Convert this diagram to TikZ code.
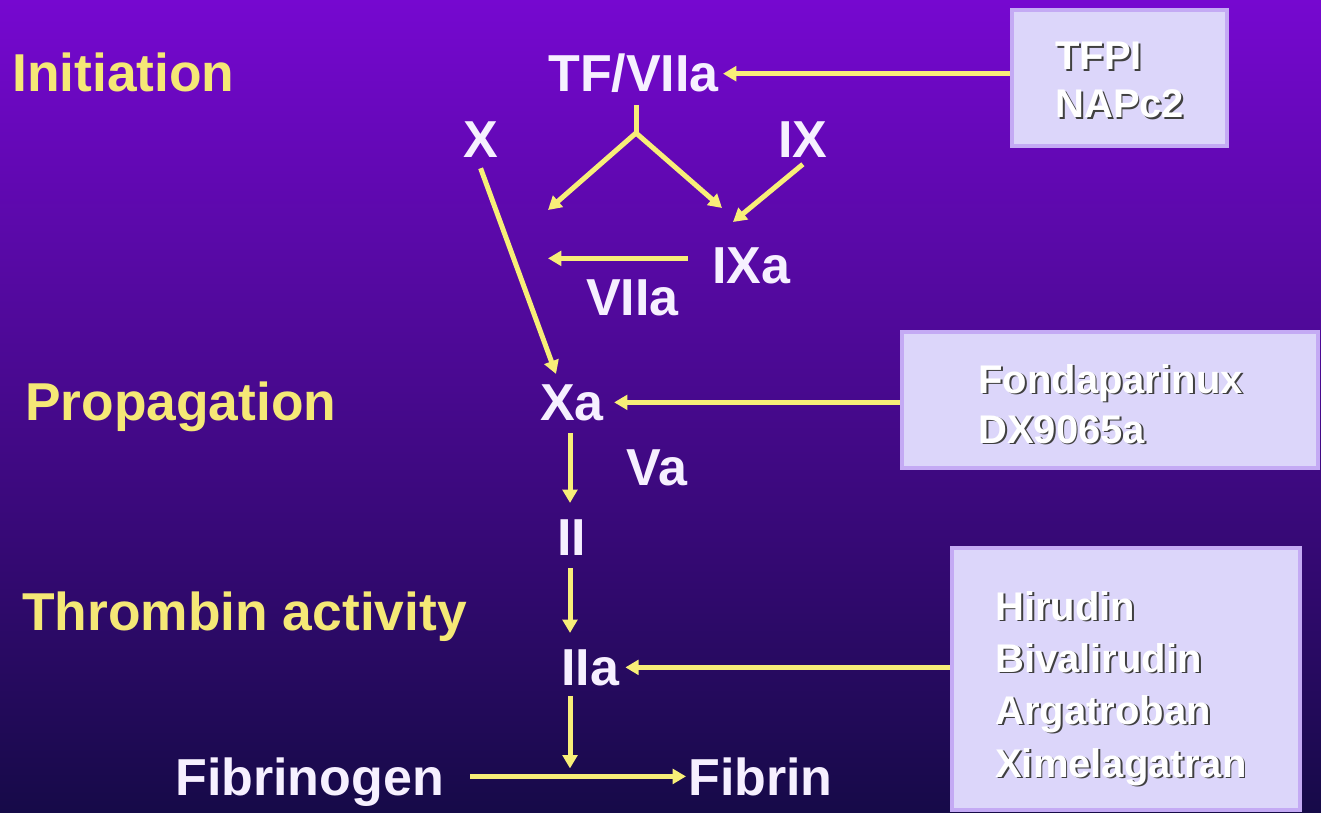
\documentclass[tikz,border=0pt]{standalone}
\usepackage{fontspec}
\setmainfont{Liberation Sans}
\usetikzlibrary{arrows.meta,calc}
\definecolor{bgtop}{RGB}{118,8,208}
\definecolor{bgmid}{RGB}{90,22,168}
\definecolor{bgbot}{RGB}{22,10,72}
\definecolor{lbl}{RGB}{245,232,118}
\definecolor{arrowc}{RGB}{248,238,120}
\definecolor{nodet}{RGB}{246,240,255}
\definecolor{boxfill}{RGB}{220,214,250}
\definecolor{boxedge}{RGB}{196,170,244}
\newcommand\embtext[1]{\rlap{\hspace{1.4pt}\raisebox{-1.4pt}{\color{black!75}#1}}#1}
\begin{document}
\begin{tikzpicture}[x=0.75pt,y=-0.75pt,
  stage/.style={anchor=base west, inner sep=0pt, text=lbl, font=\fontsize{40}{44}\selectfont\bfseries},
  fac/.style={anchor=base west, inner sep=0pt, text=nodet, font=\fontsize{39}{42}\selectfont\bfseries},
  drugbox/.style={draw=boxedge, line width=3pt, fill=boxfill, inner sep=0pt},
  drugtxt/.style={anchor=base west, inner sep=0pt, text=white, font=\fontsize{30}{36}\selectfont\bfseries},
  arr/.style={draw=arrowc, line width=3.75pt, -{Triangle[length=10pt,width=11pt]}},
  seg/.style={draw=arrowc, line width=3.75pt}]
\useasboundingbox (0,0) rectangle (1321,813);
\shade[top color=bgtop, middle color=bgmid, bottom color=bgbot] (0,0) rectangle (1321,813);

% stage labels
\node[stage] (init) at (12,92) {Initiation};
\node[stage] (prop) at (25,420) {Propagation};
\node[stage] (thr) at (22,630) {Thrombin activity};

% factors
\node[fac] (tf) at (548,92) {TF/VIIa};
\node[fac] (x) at (463,158) {X};
\node[fac] (ix) at (778,158) {IX};
\node[fac] (ixa) at (712,283) {IXa};
\node[fac] (viia) at (586,315) {VIIa};
\node[fac] (xa) at (540,420) {Xa};
\node[fac] (va) at (626,485) {Va};
\node[fac] (ii) at (557,555) {II};
\node[fac] (iia) at (561,685) {IIa};
\node[fac] (fibgn) at (175,795) {Fibrinogen};
\node[fac] (fibrin) at (688,795) {Fibrin};

% drug boxes
\node[drugbox, minimum width=161.25pt, minimum height=102pt] (b1) at (1119.5,78) {};
\node[drugbox, minimum width=312pt, minimum height=102pt] (b2) at (1110,400) {};
\node[drugbox, minimum width=261pt, minimum height=196.5pt] (b3) at (1126,679) {};

\node[drugtxt] (t1a) at (1055,70) {\embtext{TFPI}};
\node[drugtxt] (t1b) at (1055,118) {\embtext{NAPc2}};
\node[drugtxt] (t2a) at (978,393) {\embtext{Fondaparinux}};
\node[drugtxt] (t2b) at (978,443) {\embtext{DX9065a}};
\node[drugtxt] (t3a) at (995,620) {\embtext{Hirudin}};
\node[drugtxt] (t3b) at (995,672) {\embtext{Bivalirudin}};
\node[drugtxt] (t3c) at (995,724) {\embtext{Argatroban}};
\node[drugtxt] (t3d) at (995,777) {\embtext{Ximelagatran}};

% connectors
\coordinate (fork) at (636,133);
\coordinate (lt) at (548,210);
\coordinate (rt) at (722,208);
\coordinate (ixin) at (733,222);
\coordinate (vend) at (548,258);
\coordinate (ixaout) at ($(ixa.west)+(-24,-7)$);

\draw[arr] (b1.west |- tf) -- ($(tf.east)+(4,0)$);
\draw[seg] ($(fork |- tf.south)+(0,12)$) -- (fork);
\draw[arr] (fork) -- (lt);
\draw[arr] (fork) -- (rt);
\draw[arr] ($(ix.south)+(0,6)$) -- (ixin);
\draw[arr] (ixaout) -- (vend |- ixaout);
\draw[arr] ($(x.south)+(0,10)$) -- ($(xa.north west)+(16,-10)$);
\draw[arr] (b2.west |- xa) -- ($(xa.east)+(10,0)$);
\coordinate (col) at (570,0);
\draw[arr] ($(col |- xa.south)+(0,12)$) -- ($(col |- ii.north)+(0,-16)$);
\draw[arr] ($(col |- ii.south)+(0,13)$) -- ($(col |- iia.north)+(0,-16)$);
\draw[arr] (b3.west |- iia) -- ($(iia.east)+(6,0)$);
\draw[arr] ($(col |- iia.south)+(0,10)$) -- ($(col |- fibrin.west)+(0,-8)$);
\draw[arr] ($(fibgn.east |- fibrin.west)+(26,0)$) -- ($(fibrin.west)+(-2,0)$);
\end{tikzpicture}
\end{document}
